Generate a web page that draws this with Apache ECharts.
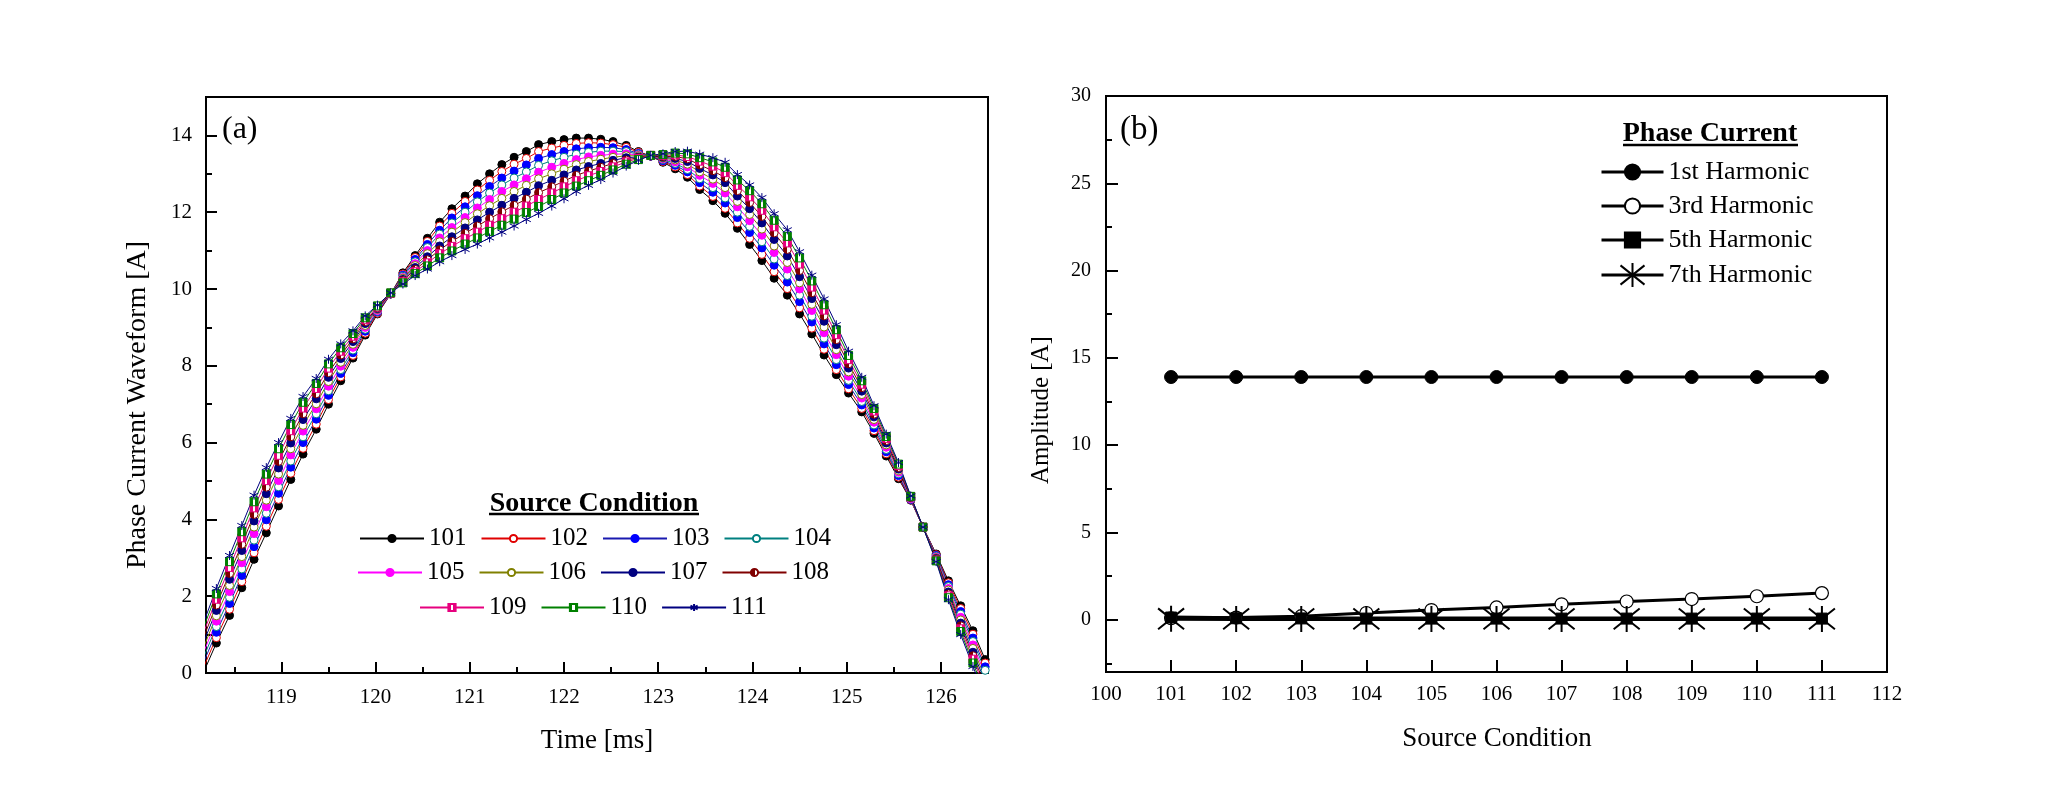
<!DOCTYPE html>
<html>
<head>
<meta charset="utf-8">
<script src="https://cdn.jsdelivr.net/npm/echarts@6/dist/echarts.min.js"></script>
<style>
html,body{margin:0;padding:0;background:#fff;}
#chart{width:2048px;height:810px;}
</style>
</head>
<body>
<div id="chart"></div>
<script>
// ---------- (a) Phase current waveform ----------
const timeMs = [118.18,118.31,118.45,118.58,118.71,118.84,118.97,119.10,119.23,119.37,119.50,119.63,119.76,119.89,120.02,120.16,120.29,120.42,120.55,120.68,120.81,120.95,121.08,121.21,121.34,121.47,121.60,121.73,121.87,122.00,122.13,122.26,122.39,122.52,122.66,122.79,122.92,123.05,123.18,123.31,123.44,123.58,123.71,123.84,123.97,124.10,124.23,124.37,124.50,124.63,124.76,124.89,125.02,125.16,125.29,125.42,125.55,125.68,125.81,125.95,126.08,126.21,126.34,126.47];
const s101 = [0.05,0.78,1.50,2.22,2.96,3.65,4.35,5.04,5.70,6.35,7.00,7.61,8.20,8.80,9.35,9.87,10.42,10.87,11.32,11.74,12.09,12.42,12.74,13.00,13.24,13.43,13.58,13.76,13.84,13.89,13.93,13.93,13.90,13.84,13.74,13.58,13.46,13.30,13.13,12.91,12.59,12.30,11.97,11.58,11.16,10.74,10.28,9.84,9.35,8.83,8.28,7.77,7.29,6.80,6.24,5.65,5.06,4.50,3.80,3.10,2.40,1.75,1.10,0.35];
const s102 = [0.18,0.92,1.66,2.38,3.13,3.82,4.52,5.20,5.85,6.48,7.12,7.71,8.27,8.85,9.37,9.87,10.39,10.82,11.24,11.64,11.97,12.28,12.58,12.83,13.06,13.25,13.40,13.58,13.67,13.74,13.79,13.81,13.80,13.76,13.69,13.56,13.46,13.32,13.18,12.98,12.68,12.41,12.10,11.72,11.32,10.90,10.45,10.01,9.51,8.98,8.43,7.90,7.40,6.89,6.31,5.71,5.10,4.51,3.80,3.08,2.35,1.68,1.01,0.26];
const s103 = [0.31,1.06,1.81,2.54,3.29,3.99,4.68,5.36,6.00,6.61,7.23,7.80,8.34,8.90,9.40,9.87,10.36,10.77,11.16,11.53,11.85,12.14,12.43,12.67,12.89,13.07,13.23,13.40,13.50,13.58,13.65,13.68,13.69,13.68,13.63,13.53,13.46,13.34,13.22,13.05,12.77,12.52,12.24,11.86,11.47,11.07,10.62,10.18,9.67,9.14,8.57,8.03,7.51,6.98,6.38,5.76,5.14,4.52,3.80,3.06,2.30,1.60,0.91,0.16];
const s104 = [0.44,1.21,1.97,2.71,3.46,4.16,4.85,5.52,6.15,6.75,7.35,7.90,8.41,8.95,9.42,9.88,10.33,10.71,11.08,11.43,11.72,12.00,12.27,12.50,12.71,12.89,13.05,13.22,13.34,13.43,13.51,13.56,13.59,13.59,13.58,13.51,13.47,13.37,13.27,13.11,12.87,12.64,12.37,12.00,11.63,11.23,10.78,10.35,9.84,9.29,8.72,8.16,7.62,7.07,6.46,5.82,5.19,4.53,3.80,3.04,2.25,1.53,0.82,0.07];
const s105 = [0.57,1.35,2.12,2.87,3.63,4.33,5.01,5.68,6.30,6.88,7.47,7.99,8.48,9.00,9.44,9.88,10.30,10.66,11.00,11.33,11.60,11.86,12.11,12.33,12.54,12.71,12.87,13.04,13.17,13.27,13.37,13.44,13.48,13.51,13.52,13.49,13.47,13.39,13.31,13.18,12.96,12.75,12.50,12.14,11.78,11.40,10.95,10.52,10.00,9.44,8.86,8.29,7.73,7.16,6.53,5.88,5.23,4.54,3.80,3.02,2.20,1.45,0.73,-0.03];
const s106 = [0.70,1.49,2.28,3.03,3.80,4.50,5.18,5.84,6.45,7.01,7.59,8.09,8.56,9.05,9.47,9.88,10.28,10.61,10.92,11.23,11.48,11.73,11.96,12.17,12.36,12.54,12.70,12.87,13.00,13.12,13.24,13.32,13.38,13.43,13.47,13.47,13.47,13.41,13.36,13.25,13.05,12.86,12.64,12.28,11.94,11.56,11.12,10.69,10.16,9.60,9.01,8.42,7.84,7.25,6.60,5.94,5.27,4.56,3.80,3.00,2.16,1.38,0.64,-0.13];
const s107 = [0.83,1.63,2.44,3.19,3.96,4.67,5.34,5.99,6.60,7.14,7.70,8.19,8.63,9.10,9.49,9.89,10.25,10.56,10.84,11.12,11.36,11.59,11.80,12.00,12.18,12.36,12.52,12.69,12.83,12.97,13.10,13.19,13.27,13.35,13.42,13.44,13.47,13.43,13.40,13.32,13.14,12.97,12.77,12.42,12.09,11.72,11.29,10.86,10.32,9.75,9.16,8.55,7.94,7.34,6.67,5.99,5.31,4.57,3.80,2.98,2.11,1.30,0.54,-0.22];
const s108 = [0.96,1.77,2.59,3.35,4.13,4.84,5.51,6.15,6.75,7.27,7.82,8.28,8.70,9.15,9.51,9.89,10.22,10.51,10.76,11.02,11.24,11.45,11.64,11.83,12.01,12.18,12.34,12.51,12.66,12.81,12.96,13.07,13.17,13.27,13.36,13.42,13.47,13.45,13.45,13.39,13.23,13.08,12.90,12.56,12.25,11.89,11.46,11.03,10.48,9.90,9.30,8.68,8.05,7.43,6.74,6.05,5.35,4.58,3.80,2.96,2.06,1.23,0.45,-0.32];
const s109 = [1.09,1.92,2.75,3.52,4.30,5.01,5.67,6.31,6.90,7.41,7.94,8.38,8.77,9.20,9.53,9.89,10.19,10.45,10.68,10.92,11.11,11.31,11.48,11.66,11.83,12.00,12.16,12.33,12.50,12.66,12.82,12.95,13.06,13.18,13.31,13.40,13.48,13.48,13.49,13.45,13.33,13.20,13.03,12.70,12.40,12.05,11.62,11.20,10.65,10.05,9.45,8.81,8.16,7.52,6.82,6.11,5.40,4.59,3.80,2.94,2.01,1.15,0.36,-0.41];
const s110 = [1.22,2.06,2.90,3.68,4.46,5.18,5.84,6.47,7.05,7.54,8.05,8.47,8.84,9.25,9.56,9.90,10.16,10.40,10.60,10.81,10.99,11.17,11.33,11.50,11.66,11.82,11.99,12.15,12.33,12.50,12.68,12.82,12.96,13.10,13.25,13.37,13.48,13.50,13.54,13.52,13.42,13.31,13.17,12.84,12.56,12.22,11.79,11.37,10.81,10.21,9.59,8.94,8.27,7.61,6.89,6.16,5.44,4.60,3.80,2.92,1.96,1.08,0.26,-0.51];
const s111 = [1.35,2.20,3.06,3.84,4.63,5.35,6.00,6.63,7.20,7.67,8.17,8.57,8.91,9.30,9.58,9.90,10.13,10.35,10.52,10.71,10.87,11.03,11.17,11.33,11.48,11.64,11.81,11.97,12.16,12.35,12.54,12.70,12.85,13.02,13.20,13.35,13.48,13.52,13.58,13.59,13.51,13.42,13.30,12.98,12.71,12.38,11.96,11.54,10.97,10.36,9.74,9.07,8.38,7.70,6.96,6.22,5.48,4.61,3.80,2.90,1.91,1.00,0.17,-0.60];
const waveNames = ['101','102','103','104','105','106','107','108','109','110','111'];
const timeTicks = [119,120,121,122,123,124,125,126];
const timeMinorTicks = [118.5,119.5,120.5,121.5,122.5,123.5,124.5,125.5,126.5];
const waveTicks = [0,2,4,6,8,10,12,14];
const waveMinorTicks = [1,3,5,7,9,11,13,15];

// ---------- (b) Harmonic amplitudes ----------
const srcCond = [101,102,103,104,105,106,107,108,109,110,111];
const h1 = [13.9,13.9,13.9,13.9,13.9,13.9,13.9,13.9,13.9,13.9,13.9];
const h3 = [0.08,0.12,0.20,0.38,0.55,0.70,0.88,1.04,1.18,1.34,1.52];
const h5 = [0.12,0.08,0.07,0.06,0.06,0.06,0.06,0.06,0.06,0.06,0.06];
const h7 = [0.05,0.04,0.04,0.04,0.04,0.04,0.04,0.04,0.04,0.04,0.04];
const harmNames = ['1st Harmonic','3rd Harmonic','5th Harmonic','7th Harmonic'];
const condTicks = [100,101,102,103,104,105,106,107,108,109,110,111,112];
const condTickMarks = [101,102,103,104,105,106,107,108,109,110,111];
const ampTicks = [0,5,10,15,20,25,30];
const ampMinorTicks = [-2.5,2.5,7.5,12.5,17.5,22.5,27.5];

const FONT = "'Liberation Serif','Times New Roman',serif";
const chart = echarts.init(document.getElementById('chart'), null, {renderer:'canvas'});

function grad(c1, c2) {
  return new echarts.graphic.LinearGradient(0, 0, 1, 0, [
    {offset:0,color:c1},{offset:0.5,color:c1},{offset:0.5,color:c2},{offset:1,color:c2}]);
}
function stripe(c) {
  return new echarts.graphic.LinearGradient(0,0,1,0,[
    {offset:0,color:c},{offset:0.38,color:c},{offset:0.38,color:'#fff'},{offset:0.62,color:'#fff'},{offset:0.62,color:c},{offset:1,color:c}]);
}
const STAR = 'path://M5,0L5,10M0,1L10,9M0,9L10,1';
const STAR6 = 'path://M5,0L5,10M0.7,2.5L9.3,7.5M0.7,7.5L9.3,2.5';

const waveStyle = [
  {c:'#000000', sym:'circle', fill:'#000000'},
  {c:'#e00000', sym:'circle', fill:'#ffffff'},
  {c:'#0000ff', sym:'circle', fill:'#0000ff', line:'#1a1ab0'},
  {c:'#008080', sym:'circle', fill:'#ffffff'},
  {c:'#ff00ff', sym:'circle', fill:'#ff00ff'},
  {c:'#808000', sym:'circle', fill:'#ffffff'},
  {c:'#000080', sym:'circle', fill:'#000080'},
  {c:'#800000', sym:'circle', fill:grad('#800000','#ffffff')},
  {c:'#e6007e', sym:'rect', fill:stripe('#e6007e')},
  {c:'#008000', sym:'rect', fill:stripe('#008000')},
  {c:'#000080', sym:STAR6, fill:'#000080'}
];
const waveData = [s101,s102,s103,s104,s105,s106,s107,s108,s109,s110,s111];

const series = [];
waveData.forEach((arr, i) => {
  const st = waveStyle[i];
  series.push({
    name: waveNames[i], type:'line', xAxisIndex:0, yAxisIndex:0,
    data: arr.map((v, k) => [timeMs[k], v]),
    symbol: st.sym, symbolSize: i === 10 ? 9 : 8, showAllSymbol: true, clip: true,
    lineStyle: {color: st.line || st.c, width: 1},
    itemStyle: {color: st.fill, borderColor: st.c, borderWidth: 1},
    emphasis: {disabled: true}
  });
});

const harmData = [h1,h3,h5,h7];
const harmStyle = [
  {sym:'circle', size:13, fill:'#000', bw:1, lw:3},
  {sym:'circle', size:13, fill:'#fff', bw:1.2, lw:3},
  {sym:'rect', size:11, fill:'#000', bw:1, lw:4},
  {sym:STAR, size:26, fill:'#000', bw:2, lw:4}
];
harmData.forEach((arr, i) => {
  const st = harmStyle[i];
  series.push({
    name: harmNames[i], type:'line', xAxisIndex:2, yAxisIndex:2,
    data: arr.map((v, k) => [srcCond[k], v]),
    symbol: st.sym, symbolSize: st.size, showAllSymbol: true,
    lineStyle: {color:'#000', width: st.lw},
    itemStyle: {color: st.fill, borderColor:'#000', borderWidth: st.bw},
    emphasis: {disabled: true}
  });
});

const tickLabel = (fs) => ({fontFamily: FONT, fontSize: fs, color:'#000'});
const harmLegendText = {fontFamily:FONT, fontSize:26, color:'#000'};

const option = {
  animation: false,
  backgroundColor: '#fff',
  grid: [
    {left:206, top:97, width:782, height:576, show:true, borderColor:'#000', borderWidth:2, backgroundColor:'transparent'},
    {left:1106, top:96, width:781, height:576, show:true, borderColor:'#000', borderWidth:2, backgroundColor:'transparent'}
  ],
  xAxis: [
    {type:'value', gridIndex:0, min:118.2, max:126.5, position:'bottom',
     axisLine:{show:true, onZero:false, lineStyle:{color:'#000', width:2}},
     axisTick:{show:true, inside:true, length:11, customValues:timeTicks, lineStyle:{color:'#000', width:2}},
     axisLabel:Object.assign({show:true, margin:14, customValues:timeTicks}, tickLabel(21)),
     splitLine:{show:false}},
    {type:'value', gridIndex:0, min:118.2, max:126.5, position:'bottom',
     axisLine:{show:false, onZero:false}, axisLabel:{show:false}, splitLine:{show:false},
     axisTick:{show:true, inside:true, length:6, customValues:timeMinorTicks, lineStyle:{color:'#000', width:2}}},
    {type:'value', gridIndex:1, min:100, max:112, position:'bottom',
     axisLine:{show:true, onZero:false, lineStyle:{color:'#000', width:2}},
     axisTick:{show:true, inside:true, length:12, customValues:condTickMarks, lineStyle:{color:'#000', width:2}},
     axisLabel:Object.assign({show:true, margin:12, customValues:condTicks}, tickLabel(21)),
     splitLine:{show:false}}
  ],
  yAxis: [
    {type:'value', gridIndex:0, min:0, max:15, position:'left',
     axisLine:{show:true, onZero:false, lineStyle:{color:'#000', width:2}},
     axisTick:{show:true, inside:true, length:11, customValues:waveTicks, lineStyle:{color:'#000', width:2}},
     axisLabel:Object.assign({show:true, margin:14, customValues:waveTicks}, tickLabel(21)),
     splitLine:{show:false}},
    {type:'value', gridIndex:0, min:0, max:15, position:'left',
     axisLine:{show:false, onZero:false}, axisLabel:{show:false}, splitLine:{show:false},
     axisTick:{show:true, inside:true, length:6, customValues:waveMinorTicks, lineStyle:{color:'#000', width:2}}},
    {type:'value', gridIndex:1, min:-3, max:30, position:'left',
     axisLine:{show:true, onZero:false, lineStyle:{color:'#000', width:2}},
     axisTick:{show:true, inside:true, length:12, customValues:ampTicks, lineStyle:{color:'#000', width:2}},
     axisLabel:Object.assign({show:true, margin:15, customValues:ampTicks}, tickLabel(20)),
     splitLine:{show:false}},
    {type:'value', gridIndex:1, min:-3, max:30, position:'left',
     axisLine:{show:false, onZero:false}, axisLabel:{show:false}, splitLine:{show:false},
     axisTick:{show:true, inside:true, length:6, customValues:ampMinorTicks, lineStyle:{color:'#000', width:2}}}
  ],
  legend: [
    {data:waveNames.slice(0,4), left:359, top:526, itemWidth:64, itemHeight:9, itemGap:14, padding:0,
     textStyle:{fontFamily:FONT, fontSize:25, color:'#000'}, selectedMode:false},
    {data:waveNames.slice(4,8), left:357, top:560, itemWidth:64, itemHeight:9, itemGap:14, padding:0,
     textStyle:{fontFamily:FONT, fontSize:25, color:'#000'}, selectedMode:false},
    {data:waveNames.slice(8,11), left:419, top:595, itemWidth:64, itemHeight:9, itemGap:14, padding:0,
     textStyle:{fontFamily:FONT, fontSize:25, color:'#000'}, selectedMode:false},
    {data:harmNames.slice(0,3), orient:'vertical', left:1600, top:159, itemWidth:62, itemHeight:19, itemGap:8, padding:0,
     lineStyle:{width:3}, textStyle:harmLegendText, selectedMode:false},
    {data:harmNames.slice(3), orient:'vertical', left:1600, top:262, itemWidth:62, itemHeight:30, padding:0,
     lineStyle:{width:3}, textStyle:harmLegendText, selectedMode:false}
  ],
  graphic: [
    {type:'text', left:222, top:114, style:{text:'(a)', font:'32px ' + FONT, fill:'#000'}},
    {type:'text', left:1120, top:114, style:{text:'(b)', font:'33px ' + FONT, fill:'#000'}},
    {type:'text', x:594, y:504, style:{text:'Source Condition', font:'bold 28px ' + FONT, fill:'#000', textAlign:'center', textVerticalAlign:'middle'}},
    {type:'line', shape:{x1:489, y1:514, x2:699, y2:514}, style:{stroke:'#000', lineWidth:2.5}},
    {type:'text', x:1710, y:134, style:{text:'Phase Current', font:'bold 28px ' + FONT, fill:'#000', textAlign:'center', textVerticalAlign:'middle'}},
    {type:'line', shape:{x1:1623, y1:145, x2:1798, y2:145}, style:{stroke:'#000', lineWidth:2.5}},
    {type:'text', x:597, y:741, style:{text:'Time [ms]', font:'27px ' + FONT, fill:'#000', textAlign:'center', textVerticalAlign:'middle'}},
    {type:'text', x:138, y:405, rotation:Math.PI/2, style:{text:'Phase Current Waveform [A]', font:'28px ' + FONT, fill:'#000', textAlign:'center', textVerticalAlign:'middle'}},
    {type:'text', x:1497, y:739, style:{text:'Source Condition', font:'27px ' + FONT, fill:'#000', textAlign:'center', textVerticalAlign:'middle'}},
    {type:'text', x:1041, y:410, rotation:Math.PI/2, style:{text:'Amplitude [A]', font:'25px ' + FONT, fill:'#000', textAlign:'center', textVerticalAlign:'middle'}}
  ],
  series: series
};
chart.setOption(option);
</script>
</body>
</html>
